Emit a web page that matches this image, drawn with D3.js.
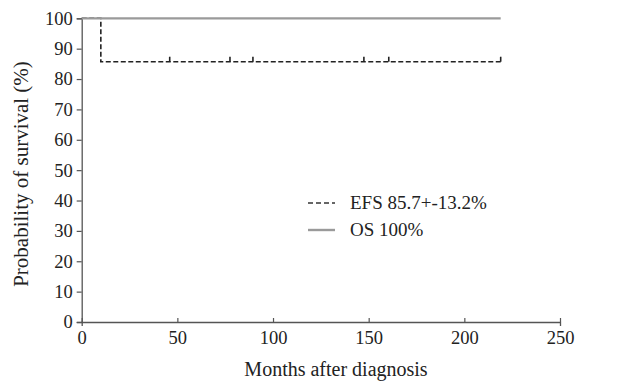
<!DOCTYPE html>
<html><head><meta charset="utf-8">
<script src="https://cdn.jsdelivr.net/npm/d3@7"></script>
<style>body{margin:0;background:#fff}svg{display:block}text{font-family:"Liberation Serif","Times New Roman",serif;fill:#222}</style>
</head><body><svg id="c" width="642" height="381"></svg>
<script>
const xTicks = [0, 50, 100, 150, 200, 250];
const yTicks = [0, 10, 20, 30, 40, 50, 60, 70, 80, 90, 100];
const efsMonths = [0, 10, 219];
const efsValues = [100, 85.7, 85.7];
const efsCensorMonths = [46, 77.5, 89.5, 147.5, 160.5, 219];
const osMonths = [0, 219];
const osValues = [100, 100];
const legendLabels = ["EFS 85.7+-13.2%", "OS 100%"];

const svg = d3.select("#c");
const x = d3.scaleLinear().domain([0, 250]).range([81.7, 560]);
const y = d3.scaleLinear().domain([0, 100]).range([322, 18.3]);

// axes
const gx = svg.append("g").attr("transform", `translate(0,${y(0)})`)
  .call(d3.axisBottom(x).tickValues(xTicks).tickSize(4).tickPadding(5));
const gy = svg.append("g").attr("transform", `translate(${x(0)},0)`)
  .call(d3.axisLeft(y).tickValues(yTicks).tickSize(5).tickPadding(4));
[gx, gy].forEach(g => {
  g.select(".domain").attr("stroke", "#555").attr("stroke-width", 1.3);
  g.selectAll(".tick line").attr("stroke", "#555").attr("stroke-width", 1.2);
  g.selectAll(".tick text").style("font-family", '"Liberation Serif",serif').style("font-size", "18.5px").attr("fill", "#222");
});
gx.selectAll(".tick line").attr("y2", -4);

// EFS step line
const efsData = efsMonths.map((m, i) => [m, efsValues[i]]);
svg.append("path").datum(efsData)
  .attr("d", d3.line().x(d => x(d[0])).y(d => y(d[1])).curve(d3.curveStepAfter))
  .attr("fill", "none").attr("stroke", "#222").attr("stroke-width", 1.6)
  .attr("stroke-dasharray", "5,2.5");

// censor ticks
svg.selectAll("line.cens").data(efsCensorMonths).join("line")
  .attr("class", "cens")
  .attr("x1", d => x(d)).attr("x2", d => x(d))
  .attr("y1", y(85.7)).attr("y2", y(85.7) - 5)
  .attr("stroke", "#222").attr("stroke-width", 1.6);

// OS line (on top)
const osData = osMonths.map((m, i) => [m, osValues[i]]);
svg.append("path").datum(osData)
  .attr("d", d3.line().x(d => x(d[0])).y(d => y(d[1])).curve(d3.curveStepAfter))
  .attr("fill", "none").attr("stroke", "#9a9a9a").attr("stroke-width", 2.2);

// legend
const lg = svg.append("g");
lg.append("line").attr("x1", 308).attr("x2", 335).attr("y1", 203).attr("y2", 203)
  .attr("stroke", "#666").attr("stroke-width", 1.8).attr("stroke-dasharray", "5,3");
lg.append("line").attr("x1", 308).attr("x2", 335).attr("y1", 230).attr("y2", 230)
  .attr("stroke", "#9a9a9a").attr("stroke-width", 2.4);
lg.selectAll("text").data(legendLabels).join("text")
  .attr("x", 350).attr("y", (d, i) => 208.5 + i * 27)
  .style("font-size", "19px").text(d => d);

// axis titles
svg.append("text").attr("x", 336).attr("y", 376).attr("text-anchor", "middle")
  .style("font-size", "20px").text("Months after diagnosis");
svg.append("text").attr("transform", "translate(28,174) rotate(-90)").attr("text-anchor", "middle")
  .style("font-size", "21px").text("Probability of survival (%)");
</script></body></html>
